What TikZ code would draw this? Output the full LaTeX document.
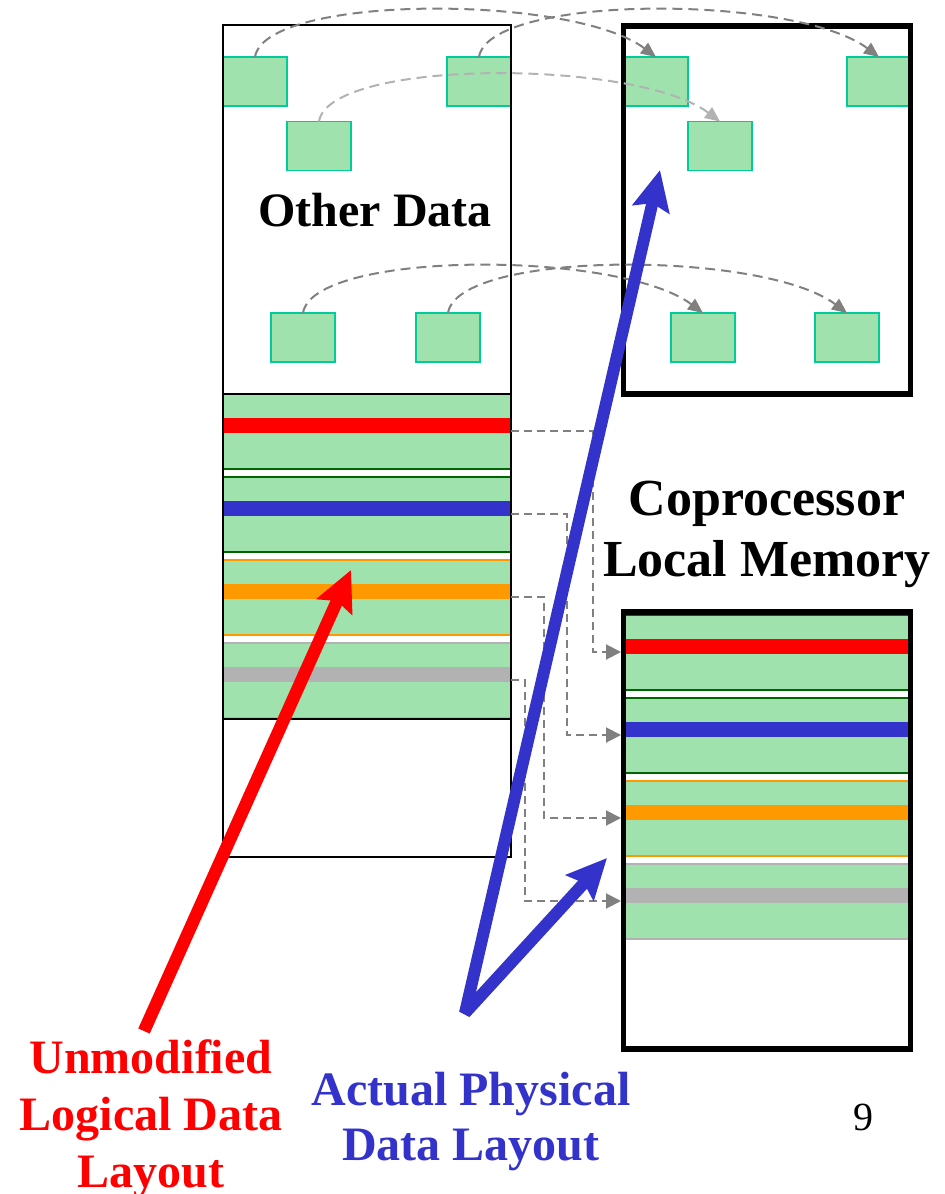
\documentclass[tikz,border=0pt]{standalone}
\usepackage{fontspec}
\setmainfont{Liberation Serif}
\usetikzlibrary{arrows.meta}
\definecolor{fillgreen}{RGB}{159,226,173}
\definecolor{sqborder}{RGB}{0,204,153}
\definecolor{dkgreen}{RGB}{0,100,0}
\definecolor{myorange}{RGB}{255,153,0}
\definecolor{bargray}{RGB}{178,178,178}
\definecolor{myblue}{RGB}{51,51,204}
\definecolor{arcgray}{RGB}{128,128,128}
\definecolor{lightarc}{RGB}{178,178,178}
\tikzset{
  sq/.style={draw=sqborder, fill=fillgreen, line width=1.6pt, minimum width=64pt, minimum height=49pt, inner sep=0pt, outer sep=0pt},
  arcline/.style={draw=arcgray, line width=2pt, dash pattern=on 10pt off 6pt, -{Triangle[length=15pt,width=13pt]}},
  conn/.style={draw=arcgray, line width=2pt, dash pattern=on 8pt off 5pt, -{Triangle[length=15pt,width=15pt]}},
  thinbox/.style={draw=black, line width=2pt},
  thickbox/.style={draw=black, line width=5.5pt},
  bigtext/.style={font=\bfseries\fontsize{48}{57}\selectfont, inner sep=0pt, anchor=base},
  memtext/.style={font=\bfseries\fontsize{52}{61}\selectfont, inner sep=0pt, anchor=base},
  bigred/.style={line width=12.5pt, draw=red, -{Stealth[length=40pt,width=38pt,inset=6pt]}},
  bigblue/.style={line width=12pt, draw=myblue, line join=bevel, {Stealth[length=40pt,width=37pt,inset=6pt]}-{Stealth[length=40pt,width=37pt,inset=6pt]}}
}
\begin{document}
\begin{tikzpicture}[x=1pt,y=-1pt]
\useasboundingbox (0,0) rectangle (945,1194);

% ---- small squares (other data) ----
\node[sq] (L1) at (255,81.5) {};
\node[sq] (L2) at (479,81.5) {};
\node[sq] (L3) at (319,146) {};
\node[sq] (L4) at (303,337.5) {};
\node[sq] (L5) at (448,337.5) {};
\node[sq] (R1) at (656,81.5) {};
\node[sq] (R2) at (879,81.5) {};
\node[sq] (R3) at (720,146) {};
\node[sq] (R4) at (703,337.5) {};
\node[sq] (R5) at (847,337.5) {};

% ---- data blocks, left (logical layout) ----
\foreach \t/\bc/\oc [count=\i] in {394/red/dkgreen, 477/myblue/dkgreen, 560/myorange/myorange, 643/bargray/bargray}{
  \filldraw[draw=\oc, fill=fillgreen, line width=1.3pt] (223,\t) rectangle (511,\t+75);
  \fill[\bc] (223,\t+24) rectangle (511,\t+39);
  \coordinate (Lb\i) at (511,\t+37);
}
% ---- data blocks, right (physical layout) ----
\foreach \t/\bc/\oc [count=\i] in {615/red/dkgreen, 698/myblue/dkgreen, 781/myorange/myorange, 864/bargray/bargray}{
  \filldraw[draw=\oc, fill=fillgreen, line width=1.3pt] (624,\t) rectangle (910,\t+75);
  \fill[\bc] (624,\t+24) rectangle (910,\t+39);
  \coordinate (Rb\i) at (621,\t+37);
}

% ---- boxes ----
\draw[thinbox] (223,25) rectangle (511,857);
\draw[thinbox] (223,394) -- (511,394);
\draw[thinbox] (223,719) -- (511,719);
\draw[thickbox] (623.5,26) rectangle (910.5,394);
\draw[thickbox] (623.5,612) rectangle (910.5,1049);

% ---- curved dashed arrows ----
\draw[arcline] (L1.north) .. controls +(10,-63) and +(-84,-63) .. (R1.north);
\draw[arcline] (L2.north) .. controls +(10,-63) and +(-84,-63) .. (R2.north);
\draw[arcline, draw=lightarc] (L3.north) .. controls +(10,-63) and +(-84,-63) .. (R3.north);
\draw[arcline] (L4.north) .. controls +(10,-63) and +(-84,-63) .. (R4.north);
\draw[arcline] (L5.north) .. controls +(10,-63) and +(-84,-63) .. (R5.north);

% ---- elbow dashed connectors ----
\draw[conn] (Lb1) -- ++(82,0) |- (Rb1);
\draw[conn] (Lb2) -- ++(56,0) |- (Rb2);
\draw[conn] (Lb3) -- ++(33,0) |- (Rb3);
\draw[conn] (Lb4) -- ++(14,0) |- (Rb4);

% ---- big arrows ----
\coordinate (redtail) at (144,1031);
\coordinate (redtip) at (351,570);
\draw[bigred] (redtail) -- (redtip);
\coordinate (bluetop) at (660,170);
\coordinate (bluevertex) at (465,1013);
\coordinate (bluetip) at (607,858);
\draw[bigblue] (bluetop) -- (bluevertex) -- (bluetip);

% ---- texts ----
\node[bigtext] (other) at (375,226.5) {Other Data};
\node[memtext] (cop1) at (767,515) {Coprocessor};
\node[memtext] (cop2) at (767,576) {Local Memory};
\node[bigtext, text=red] (red1) at (151,1073) {Unmodified};
\node[bigtext, text=red] (red2) at (151,1130) {Logical Data};
\node[bigtext, text=red] (red3) at (151,1187) {Layout};
\node[bigtext, text=myblue] (blue1) at (471,1105) {Actual Physical};
\node[bigtext, text=myblue] (blue2) at (471,1160) {Data Layout};
\node[font=\fontsize{40}{48}\selectfont, inner sep=0pt, anchor=base] (page) at (863,1130) {9};
\end{tikzpicture}
\end{document}
